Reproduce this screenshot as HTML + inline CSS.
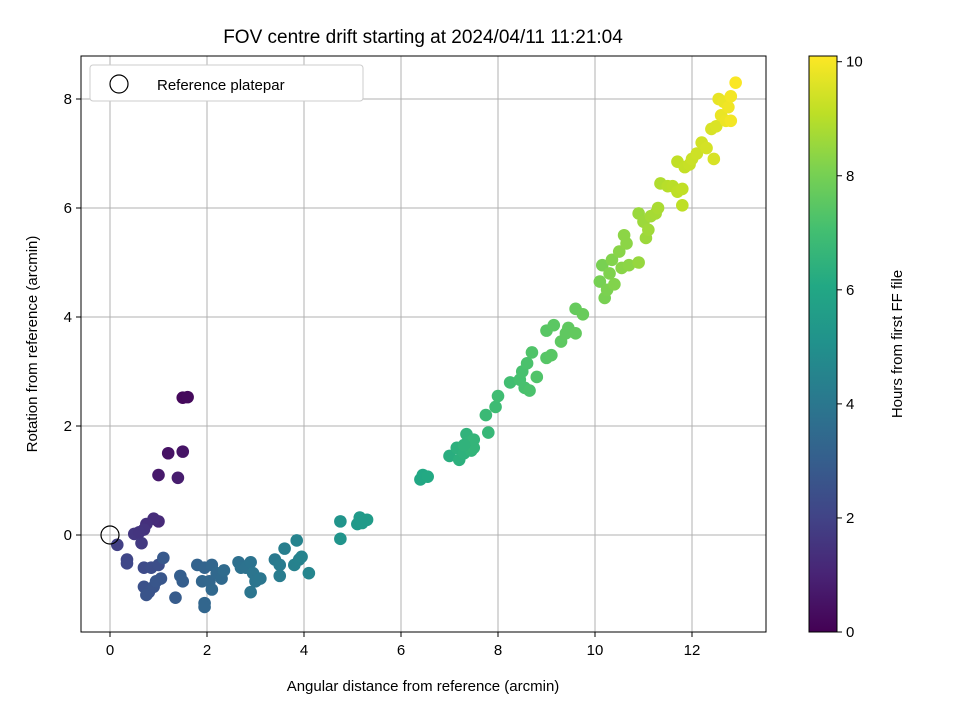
<!DOCTYPE html>
<html><head><meta charset="utf-8"><style>
body{margin:0;background:#fff}
svg text{font-family:"Liberation Sans","DejaVu Sans",sans-serif;fill:#000}
</style></head><body>
<svg id="chart" width="960" height="720">
<defs>
<linearGradient id="vir" x1="0" y1="1" x2="0" y2="0">
<stop offset="0" stop-color="#440154"/><stop offset="0.1" stop-color="#482475"/><stop offset="0.2" stop-color="#414487"/><stop offset="0.3" stop-color="#355f8d"/><stop offset="0.4" stop-color="#2a788e"/><stop offset="0.5" stop-color="#21918c"/><stop offset="0.6" stop-color="#22a884"/><stop offset="0.7" stop-color="#44bf70"/><stop offset="0.8" stop-color="#7ad151"/><stop offset="0.9" stop-color="#bddf26"/><stop offset="1" stop-color="#fde725"/>
</linearGradient>
</defs>
<text x="423" y="43" font-size="19" text-anchor="middle">FOV centre drift starting at 2024/04/11 11:21:04</text>
<g id="grid"></g><g id="pts"></g><g id="axes"></g>
<rect x="81" y="56" width="685" height="576" fill="none" stroke="#000" stroke-width="1"/>
<text x="423" y="691" font-size="15" text-anchor="middle">Angular distance from reference (arcmin)</text>
<text transform="translate(37,344) rotate(-90)" font-size="15" text-anchor="middle">Rotation from reference (arcmin)</text>
<g>
<rect x="90" y="65" width="273" height="36" rx="3" fill="#fff" stroke="#ccc"/>
<circle cx="119" cy="84" r="9" fill="none" stroke="#000" stroke-width="1.2"/>
<text x="157" y="90" font-size="15">Reference platepar</text>
</g>
<rect x="809" y="56" width="28" height="576" fill="url(#vir)" stroke="#000" stroke-width="1"/>
<g id="cbar"></g>
<text transform="translate(902,344) rotate(-90)" font-size="15" text-anchor="middle">Hours from first FF file</text>
</svg>
<script>
const xTicks=[0,2,4,6,8,10,12];
const yTicks=[0,2,4,6,8];
const cTicks=[0,2,4,6,8,10];
const xs=[1.5,1.6,1.2,1.5,1.0,1.4,1.0,0.9,0.75,0.7,0.5,0.65,0.15,0.6,0.35,0.35,0.7,0.85,1.0,0.7,0.8,0.75,0.9,1.05,0.95,1.1,1.35,1.45,1.5,1.8,1.95,2.1,1.9,2.05,2.2,2.3,2.1,1.95,1.95,2.35,2.65,2.7,2.8,2.9,2.95,3.0,3.1,2.9,3.4,3.5,3.5,3.6,3.8,3.9,3.95,3.85,4.1,4.75,4.75,5.1,5.15,5.3,5.2,6.4,6.45,6.55,7.0,7.15,7.2,7.3,7.35,7.4,7.45,7.5,7.5,7.3,7.8,7.75,7.95,8.0,8.25,8.45,8.5,8.55,8.6,8.65,8.7,8.8,9.0,9.0,9.1,9.15,9.3,9.4,9.45,9.6,9.6,9.75,10.1,10.15,10.2,10.25,10.3,10.35,10.4,10.5,10.55,10.6,10.65,10.7,10.9,10.9,11.0,11.05,11.1,11.15,11.25,11.3,11.35,11.5,11.6,11.7,11.7,11.8,11.8,11.85,11.95,12.0,12.1,12.2,12.3,12.4,12.45,12.5,12.55,12.65,12.6,12.7,12.75,12.8,12.8,12.9];
const ys=[2.52,2.53,1.5,1.53,1.1,1.05,0.25,0.3,0.2,0.1,0.02,-0.15,-0.18,0.05,-0.45,-0.52,-0.6,-0.6,-0.55,-0.95,-1.05,-1.1,-0.95,-0.8,-0.85,-0.42,-1.15,-0.75,-0.85,-0.55,-0.6,-0.55,-0.85,-0.85,-0.7,-0.8,-1.0,-1.25,-1.32,-0.65,-0.5,-0.6,-0.6,-0.5,-0.7,-0.85,-0.8,-1.05,-0.45,-0.55,-0.75,-0.25,-0.55,-0.45,-0.4,-0.1,-0.7,0.25,-0.07,0.2,0.32,0.28,0.22,1.02,1.1,1.07,1.45,1.6,1.38,1.5,1.85,1.7,1.55,1.6,1.75,1.65,1.88,2.2,2.35,2.55,2.8,2.85,3.0,2.7,3.15,2.65,3.35,2.9,3.25,3.75,3.3,3.85,3.55,3.7,3.8,3.7,4.15,4.05,4.65,4.95,4.35,4.5,4.8,5.05,4.6,5.2,4.9,5.5,5.35,4.95,5.0,5.9,5.75,5.45,5.6,5.85,5.9,6.0,6.45,6.4,6.4,6.85,6.3,6.05,6.35,6.75,6.8,6.9,7.0,7.2,7.1,7.45,6.9,7.5,8.0,7.95,7.7,7.6,7.85,8.05,7.6,8.3];
const hours=[0.2,0.25,0.5,0.55,0.7,0.8,1.2,1.3,1.4,1.5,1.6,1.7,1.9,1.55,2.1,2.15,2.3,2.35,2.4,2.5,2.55,2.6,2.6,2.7,2.7,2.8,2.9,3.0,3.0,3.2,3.25,3.3,3.3,3.35,3.4,3.45,3.4,3.3,3.3,3.5,3.7,3.75,3.8,3.85,3.9,3.9,3.95,3.9,4.1,4.15,4.2,4.3,4.4,4.45,4.5,4.5,4.55,5.2,5.2,5.4,5.45,5.5,5.45,6.0,6.05,6.1,6.3,6.4,6.4,6.45,6.5,6.55,6.55,6.6,6.6,6.5,6.7,6.8,6.9,6.95,7.0,7.1,7.15,7.15,7.2,7.2,7.3,7.3,7.4,7.45,7.45,7.5,7.55,7.6,7.6,7.65,7.7,7.75,8.0,8.05,8.05,8.1,8.15,8.2,8.2,8.3,8.3,8.35,8.35,8.35,8.5,8.55,8.6,8.6,8.65,8.7,8.75,8.8,8.9,9.0,9.05,9.15,9.1,9.1,9.15,9.2,9.25,9.3,9.35,9.4,9.45,9.5,9.5,9.55,9.75,9.8,9.8,9.85,9.9,9.95,9.95,10.05];
const NS="http://www.w3.org/2000/svg";
const sx=v=>110+v*48.5, sy=v=>535-v*54.5, sc=v=>632-v*(576/10.1);
const vir=[[68,1,84],[72,36,117],[65,68,135],[53,95,141],[42,120,142],[33,145,140],[34,168,132],[68,191,112],[122,209,81],[189,223,38],[253,231,37]];
function col(t){t=Math.max(0,Math.min(1,t/10.1))*(vir.length-1);const i=Math.min(Math.floor(t),vir.length-2),f=t-i;const c=vir[i].map((a,k)=>Math.round(a+(vir[i+1][k]-a)*f));return `rgb(${c})`;}
function mk(tag,attrs,parent){const e=document.createElementNS(NS,tag);for(const k in attrs)e.setAttribute(k,attrs[k]);document.getElementById(parent).appendChild(e);return e;}
xTicks.forEach(v=>{
 const g=mk('line',{x1:sx(v),x2:sx(v),y1:56,y2:632,stroke:'#b0b0b0','stroke-width':1},'grid');
 
 
 mk('line',{x1:sx(v),x2:sx(v),y1:632,y2:637,stroke:'#000'},'axes');
 const t=mk('text',{x:sx(v),y:655,'font-size':15,'text-anchor':'middle'},'axes');t.textContent=v;
 
 
});
yTicks.forEach(v=>{
 const g=mk('line',{x1:81,x2:766,y1:sy(v),y2:sy(v),stroke:'#b0b0b0','stroke-width':1},'grid');
 
 
 mk('line',{x1:76,x2:81,y1:sy(v),y2:sy(v),stroke:'#000'},'axes');
 const t=mk('text',{x:72,y:sy(v)+5,'font-size':15,'text-anchor':'end'},'axes');t.textContent=v;
 
 
});
cTicks.forEach(v=>{
 mk('line',{x1:837,x2:842,y1:sc(v),y2:sc(v),stroke:'#000'},'cbar');
 const t=mk('text',{x:846,y:sc(v)+5,'font-size':15},'cbar');t.textContent=v;
 
 
});
xs.forEach((x,i)=>{
 const c=mk('circle',{cx:sx(x),cy:sy(ys[i]),r:6.3,fill:col(hours[i])},'pts');
 
 
});
const ref=mk('circle',{cx:sx(0),cy:sy(0),r:9,fill:'none',stroke:'#000','stroke-width':1.2},'pts');


</script>
</body></html>
